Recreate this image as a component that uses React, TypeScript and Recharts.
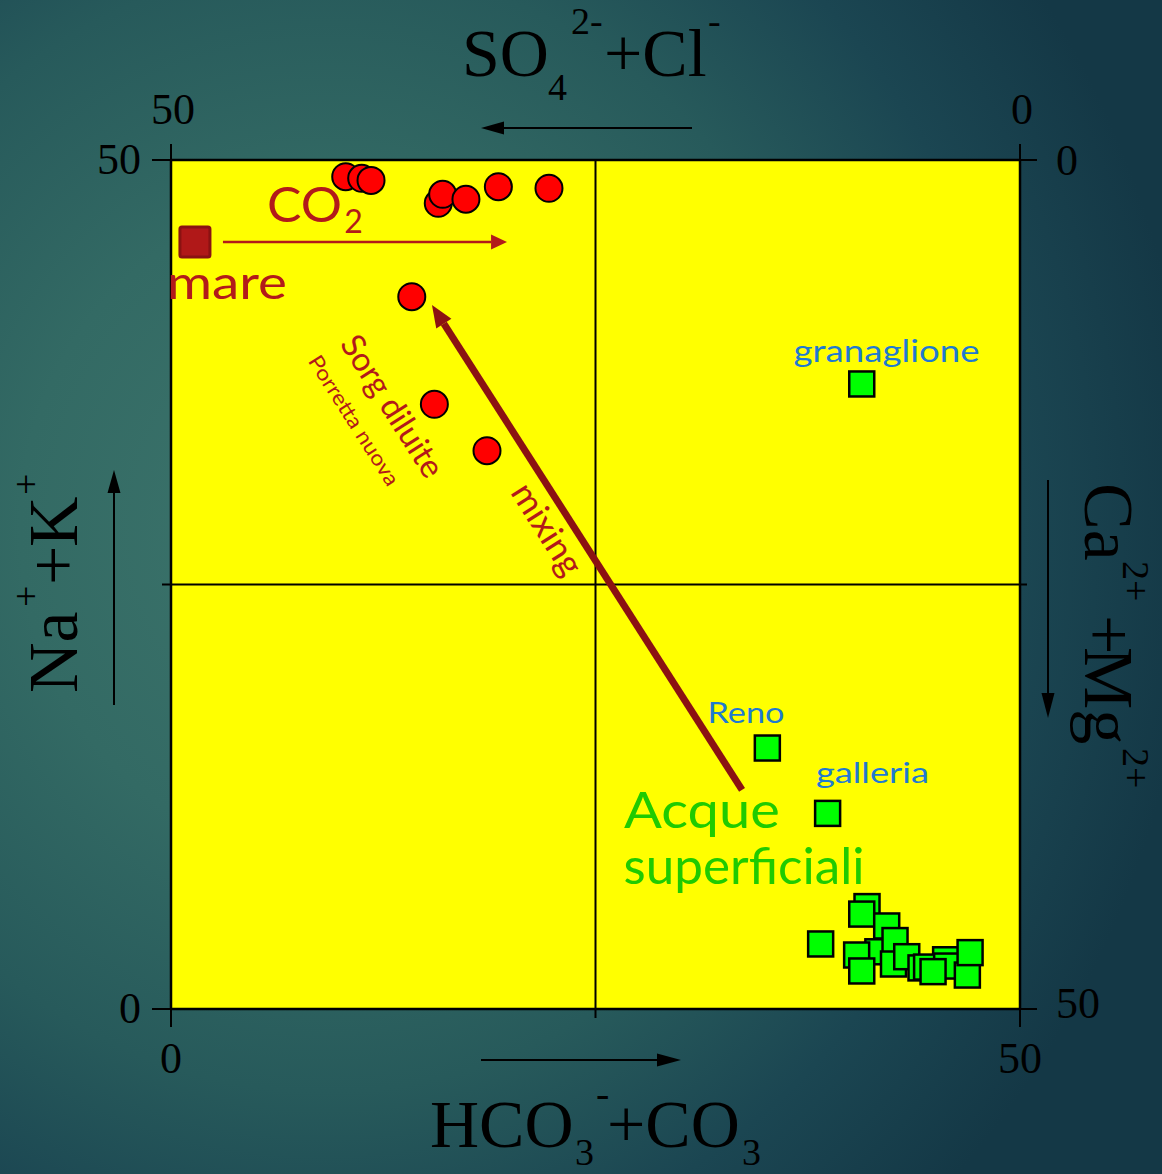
import React from 'react';
import {
  ScatterChart,
  Scatter,
  XAxis,
  YAxis,
  CartesianGrid,
  ReferenceLine,
  ReferenceDot,
} from 'recharts';

// Langelier–Ludwig square: x = HCO3- + CO3 (meq %), y = Na+ + K+ (meq %)
const seawater = [{ x: 1.41, y: 45.17 }];

const thermalSprings = [
  { x: 10.29, y: 49.02 },
  { x: 11.23, y: 48.92 },
  { x: 11.78, y: 48.8 },
  { x: 15.74, y: 47.45 },
  { x: 16.0, y: 47.98 },
  { x: 17.37, y: 47.69 },
  { x: 19.28, y: 48.43 },
  { x: 22.26, y: 48.33 },
  { x: 14.18, y: 41.95 },
  { x: 15.51, y: 35.61 },
  { x: 18.61, y: 32.88 },
];

const surfaceWaters = [
  { x: 40.68, y: 36.81 },
  { x: 35.12, y: 15.37 },
  { x: 38.67, y: 11.52 },
  { x: 40.99, y: 6.03 },
  { x: 40.68, y: 5.59 },
  { x: 38.26, y: 3.83 },
  { x: 41.63, y: 3.37 },
  { x: 40.38, y: 3.18 },
  { x: 42.15, y: 4.89 },
  { x: 42.64, y: 4.03 },
  { x: 40.68, y: 2.24 },
  { x: 42.55, y: 2.65 },
  { x: 43.33, y: 3.08 },
  { x: 44.17, y: 2.42 },
  { x: 45.62, y: 2.9 },
  { x: 44.5, y: 2.47 },
  { x: 45.68, y: 2.53 },
  { x: 44.88, y: 2.2 },
  { x: 46.9, y: 2.0 },
  { x: 47.06, y: 3.32 },
];

const axisTicks = [0, 25, 50];
const cornerTicks = [0, 50];

const CHART_W = 1162;
const CHART_H = 1174;
const SERIF = '"Liberation Serif", "Times New Roman", serif';
const SANS = 'Lato, "Open Sans", sans-serif';
const DARK_RED = '#B21A1A';
const BLUE = '#1F7AD0';
const GREEN_TEXT = '#1FCB00';

// ---------- marker shapes ----------
const RedCircle = (p: any) => (
  <circle cx={p.cx} cy={p.cy} r={13.5} fill="#FF0000" stroke="#000" strokeWidth={2} />
);
const GreenSquare = (p: any) => (
  <rect x={p.cx - 12.5} y={p.cy - 12.5} width={25} height={25} fill="#00FF00" stroke="#000" strokeWidth={2.5} />
);
const SeaSquare = (p: any) => (
  <rect x={p.cx - 15} y={p.cy - 15} width={30} height={30} rx={2} fill="#B01818" stroke="#8A1212" strokeWidth={3} />
);

// ---------- axis ticks ----------
const tickText = { fontFamily: SERIF, fontSize: 44, fill: '#000' } as const;

const BottomTick = (p: any) => {
  const v = p.payload.value;
  const len = v === 25 ? 9 : 18;
  return (
    <g>
      <line x1={p.x} y1={p.y} x2={p.x} y2={p.y + len} stroke="#000" strokeWidth={2} />
      {v !== 25 && (
        <text x={p.x} y={p.y + 64} textAnchor="middle" {...tickText}>
          {v}
        </text>
      )}
    </g>
  );
};

const TopTick = (p: any) => {
  const v = p.payload.value;
  return (
    <g>
      <line x1={p.x} y1={p.y} x2={p.x} y2={p.y - 16} stroke="#000" strokeWidth={2} />
      <text x={p.x + 2} y={p.y - 36} textAnchor="middle" {...tickText}>
        {v}
      </text>
    </g>
  );
};

const LeftTick = (p: any) => {
  const v = p.payload.value;
  const len = v === 25 ? 9 : 19;
  return (
    <g>
      <line x1={p.x} y1={p.y} x2={p.x - len} y2={p.y} stroke="#000" strokeWidth={2} />
      {v !== 25 && (
        <text x={p.x - 30} y={p.y + 14} textAnchor="end" {...tickText}>
          {v}
        </text>
      )}
    </g>
  );
};

const RightTick = (p: any) => {
  const v = p.payload.value;
  const len = v === 25 ? 7 : 17;
  return (
    <g>
      <line x1={p.x} y1={p.y} x2={p.x + len} y2={p.y} stroke="#000" strokeWidth={2} />
      {v !== 25 && (
        <text x={p.x + 36} y={p.y + (v === 0 ? 15 : 9)} textAnchor="start" {...tickText}>
          {v}
        </text>
      )}
    </g>
  );
};

// ---------- annotation shapes ----------
const arrowShape =
  (color: string, width: number, headLen: number, headHalf: number) => (p: any) => {
    const { x1, y1, x2, y2 } = p;
    const a = Math.atan2(y2 - y1, x2 - x1);
    const bx = x2 - headLen * Math.cos(a);
    const by = y2 - headLen * Math.sin(a);
    const px = -Math.sin(a) * headHalf;
    const py = Math.cos(a) * headHalf;
    return (
      <g>
        <line x1={x1} y1={y1} x2={bx} y2={by} stroke={color} strokeWidth={width} />
        <polygon points={`${x2},${y2} ${bx + px},${by + py} ${bx - px},${by - py}`} fill={color} />
      </g>
    );
  };

type Note = {
  text: string;
  x: number;
  y: number;
  size: number;
  len: number;
  color: string;
  angle?: number;
};

// horizontal notes anchored at text centre / baseline; rotated notes at glyph centre
const notes: Note[] = [
  { text: 'mare', x: 3.3, y: 41.81, size: 46, len: 120, color: DARK_RED },
  { text: 'granaglione', x: 42.14, y: 38.1, size: 30, len: 186, color: BLUE },
  { text: 'Reno', x: 33.86, y: 16.84, size: 29, len: 77, color: BLUE },
  { text: 'galleria', x: 41.31, y: 13.31, size: 29, len: 113, color: BLUE },
  { text: 'Acque', x: 31.27, y: 10.66, size: 50, len: 156, color: GREEN_TEXT },
  { text: 'superficiali', x: 33.75, y: 7.39, size: 50, len: 241, color: GREEN_TEXT },
  { text: 'Sorg diluite', x: 12.96, y: 35.45, size: 33, len: 162, color: DARK_RED, angle: 57.5 },
  { text: 'Porretta nuova', x: 10.72, y: 34.63, size: 21, len: 150, color: DARK_RED, angle: 57.5 },
  { text: 'mixing', x: 22.08, y: 28.21, size: 35, len: 102, color: DARK_RED, angle: 57.5 },
];

const noteShape = (n: Note) => (p: any) => {
  if (n.angle) {
    return (
      <text
        x={p.cx}
        y={p.cy}
        dy="0.3em"
        textAnchor="middle"
        fontFamily={SANS}
        fontSize={n.size}
        fill={n.color}
        textLength={n.len}
        lengthAdjust="spacingAndGlyphs"
        transform={`rotate(${n.angle} ${p.cx} ${p.cy})`}
      >
        {n.text}
      </text>
    );
  }
  return (
    <text
      x={p.cx}
      y={p.cy}
      textAnchor="middle"
      fontFamily={SANS}
      fontSize={n.size}
      fill={n.color}
      textLength={n.len}
      lengthAdjust="spacingAndGlyphs"
    >
      {n.text}
    </text>
  );
};

const co2Shape = (p: any) => (
  <g fontFamily={SANS} fill={DARK_RED}>
    <text x={p.cx} y={p.cy} textAnchor="middle" fontSize={48} textLength={75} lengthAdjust="spacingAndGlyphs">
      CO
    </text>
    <text x={p.cx + 49} y={p.cy + 11} textAnchor="middle" fontSize={32}>
      2
    </text>
  </g>
);

// ---------- titles outside the square ----------
const Titles = () => (
  <svg
    width={CHART_W}
    height={CHART_H}
    style={{ position: 'absolute', left: 0, top: 0, pointerEvents: 'none' }}
  >
    <g fontFamily={SERIF} fill="#000">
      {/* SO4 2- + Cl- */}
      <text x={462} y={76} fontSize={68}>SO</text>
      <text x={548} y={100} fontSize={38}>4</text>
      <text x={571} y={34} fontSize={38}>2-</text>
      <text x={604} y={76} fontSize={68}>+Cl</text>
      <text x={708} y={34} fontSize={38}>-</text>

      {/* HCO3- + CO3 */}
      <text x={430} y={1147} fontSize={68}>HCO</text>
      <text x={575} y={1165} fontSize={38}>3</text>
      <text x={596} y={1107} fontSize={40}>-</text>
      <text x={607} y={1147} fontSize={68}>+CO</text>
      <text x={742} y={1165} fontSize={38}>3</text>

      {/* Na+ + K+ */}
      <g transform="translate(77,693) rotate(-90)">
        <text x={0} y={0} fontSize={70}>Na</text>
        <text x={86} y={-38} fontSize={38}>+</text>
        <text x={108} y={0} fontSize={70}>+</text>
        <text x={146} y={0} fontSize={70}>K</text>
        <text x={198} y={-38} fontSize={38}>+</text>
      </g>

      {/* Ca2+ + Mg2+ */}
      <g transform="translate(1085,483) rotate(90)">
        <text x={0} y={0} fontSize={70}>Ca</text>
        <text x={78} y={-38} fontSize={38}>2+</text>
        <text x={132} y={0} fontSize={70}>+</text>
        <text x={164} y={0} fontSize={70}>Mg</text>
        <text x={265} y={-38} fontSize={38}>2+</text>
      </g>
    </g>

    {/* direction arrows */}
    <g stroke="#000" strokeWidth={2} fill="#000">
      <line x1={114} y1={705} x2={114} y2={490} />
      <polygon points="114,470 107.5,493 120.5,493" stroke="none" />
      <line x1={1048} y1={480} x2={1048} y2={696} />
      <polygon points="1048,718 1041.5,693 1054.5,693" stroke="none" />
      <line x1={692} y1={128} x2={502} y2={128} />
      <polygon points="481,128 504,121.5 504,134.5" stroke="none" />
      <line x1={481} y1={1060} x2={660} y2={1060} />
      <polygon points="681,1060 657,1053.5 657,1066.5" stroke="none" />
    </g>
  </svg>
);

export default function App() {
  return (
    <div
      style={{
        position: 'absolute',
        left: 0,
        top: 0,
        width: CHART_W,
        height: CHART_H,
        overflow: 'hidden',
        background:
          'radial-gradient(ellipse 75% 80% at 28% 45%, #3d756c 0%, #336a64 35%, #275a5b 60%, #1b4652 80%, #143846 100%)',
      }}
    >
      <ScatterChart
        width={CHART_W}
        height={CHART_H}
        margin={{ top: 140, right: 122, bottom: 145, left: 151 }}
      >
        <CartesianGrid
          xAxisId="b"
          yAxisId="l"
          fill="#FFFF00"
          fillOpacity={1}
          horizontal={false}
          vertical={false}
        />
        <XAxis
          xAxisId="b"
          type="number"
          dataKey="x"
          domain={[0, 50]}
          ticks={axisTicks}
          interval={0}
          orientation="bottom"
          height={20}
          allowDataOverflow
          axisLine={{ stroke: '#000', strokeWidth: 2.5 }}
          tickLine={false}
          tickSize={0}
          tickMargin={0}
          tick={BottomTick}
        />
        <XAxis
          xAxisId="t"
          type="number"
          dataKey="x"
          domain={[0, 50]}
          ticks={cornerTicks}
          interval={0}
          orientation="top"
          reversed
          height={20}
          allowDataOverflow
          axisLine={{ stroke: '#000', strokeWidth: 2.5 }}
          tickLine={false}
          tickSize={0}
          tickMargin={0}
          tick={TopTick}
        />
        <YAxis
          yAxisId="l"
          type="number"
          dataKey="y"
          domain={[0, 50]}
          ticks={axisTicks}
          interval={0}
          orientation="left"
          width={20}
          allowDataOverflow
          axisLine={{ stroke: '#000', strokeWidth: 2.5 }}
          tickLine={false}
          tickSize={0}
          tickMargin={0}
          tick={LeftTick}
        />
        <YAxis
          yAxisId="r"
          type="number"
          dataKey="y"
          domain={[0, 50]}
          ticks={axisTicks}
          interval={0}
          orientation="right"
          reversed
          width={20}
          allowDataOverflow
          axisLine={{ stroke: '#000', strokeWidth: 2.5 }}
          tickLine={false}
          tickSize={0}
          tickMargin={0}
          tick={RightTick}
        />

        <ReferenceLine xAxisId="b" yAxisId="l" x={25} stroke="#000" strokeWidth={2} />
        <ReferenceLine xAxisId="b" yAxisId="l" y={25} stroke="#000" strokeWidth={2} />

        {/* CO2 enrichment and mixing trends */}
        <ReferenceLine
          xAxisId="b"
          yAxisId="l"
          segment={[
            { x: 3.06, y: 45.17 },
            { x: 19.79, y: 45.17 },
          ]}
          shape={arrowShape(DARK_RED, 2.5, 16, 7.5)}
        />
        <ReferenceLine
          xAxisId="b"
          yAxisId="l"
          segment={[
            { x: 33.63, y: 12.9 },
            { x: 15.37, y: 41.46 },
          ]}
          shape={arrowShape('#8B1212', 7, 22, 9)}
        />

        <ReferenceDot xAxisId="b" yAxisId="l" x={7.86} y={46.35} r={0} shape={co2Shape} />
        {notes.map((n) => (
          <ReferenceDot
            key={n.text}
            xAxisId="b"
            yAxisId="l"
            x={n.x}
            y={n.y}
            r={0}
            ifOverflow="visible"
            shape={noteShape(n)}
          />
        ))}

        <Scatter
          xAxisId="b"
          yAxisId="l"
          data={seawater}
          shape={SeaSquare}
          isAnimationActive={false}
        />
        <Scatter
          xAxisId="b"
          yAxisId="l"
          data={thermalSprings}
          shape={RedCircle}
          isAnimationActive={false}
        />
        <Scatter
          xAxisId="b"
          yAxisId="l"
          data={surfaceWaters}
          shape={GreenSquare}
          isAnimationActive={false}
        />
      </ScatterChart>
      <Titles />
    </div>
  );
}
